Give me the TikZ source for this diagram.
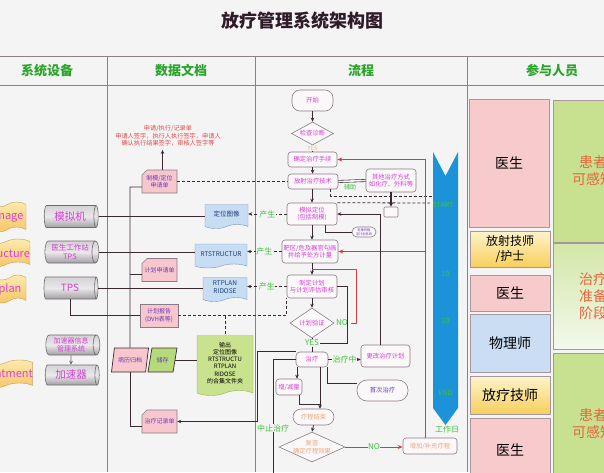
\documentclass[tikz,border=0pt]{standalone}
\usepackage{fontspec}
\setmainfont{Noto Sans CJK SC}
\usepackage{tikz}
\usetikzlibrary{arrows.meta, positioning, calc, shapes.geometric, shapes.symbols}
\definecolor{pageback}{HTML}{F5F4F5}
\definecolor{gridgray}{HTML}{8C8189}
\definecolor{titleink}{HTML}{2E1B27}
\definecolor{headgreen}{HTML}{2AA52A}
\definecolor{flowpink}{HTML}{D43FD4}
\definecolor{boxedge}{HTML}{8B7B86}
\definecolor{boxfill}{HTML}{FBF8FA}
\definecolor{linkdark}{HTML}{3B2833}
\definecolor{docblue}{HTML}{C7DDF3}
\definecolor{docedge}{HTML}{7F95AE}
\definecolor{docink}{HTML}{1F3C7A}
\definecolor{cardpink}{HTML}{F7C7CD}
\definecolor{cardink}{HTML}{6B3BB8}
\definecolor{notered}{HTML}{E04848}
\definecolor{saygreen}{HTML}{3EC23E}
\definecolor{linkred}{HTML}{DC3B3B}
\definecolor{bandblue}{HTML}{1C93D9}
\definecolor{yesgold}{HTML}{F0C255}
\definecolor{endorange}{HTML}{EEA677}
\definecolor{outgreen}{HTML}{C9E28E}
\definecolor{outedge}{HTML}{9AB262}
\definecolor{storegreen}{HTML}{B6D97B}
\definecolor{roleedge}{HTML}{A4979D}
\definecolor{rolepink}{HTML}{F7CACB}
\definecolor{roleblue}{HTML}{CADDF3}
\definecolor{roleyellowtop}{HTML}{FFF3CC}
\definecolor{roleyellowbot}{HTML}{F6CF5C}
\definecolor{patgreen}{HTML}{C7E191}
\definecolor{patink}{HTML}{E8653A}
\definecolor{stagetop}{HTML}{D2E7A8}
\definecolor{stagebot}{HTML}{F4F8EE}
\definecolor{cyltop}{HTML}{EAE8EA}
\definecolor{cylbot}{HTML}{A3A0A3}
\definecolor{cyledge}{HTML}{6E6A6E}
\definecolor{bannertop}{HTML}{FCEBB0}
\definecolor{bannerbot}{HTML}{F6C565}
\definecolor{bannerink}{HTML}{E23FDA}
\newcommand{\fsz}[1]{\fontsize{#1}{\dimexpr#1pt*6/5\relax}\selectfont}
% request card with cut corner: name, centre, text
\newcommand{\cardnode}[3]{%
  \filldraw[cardframe] (#2) ++(-12.5,-11.5) -- ++(30,0) -- ++(0,23) -- ++(-35,0) -- ++(0,-18) -- cycle;
  \node[cardtext] (#1) at (#2) {#3};}

\begin{document}
\begin{tikzpicture}[x=1pt, y=-1pt, >=Stealth,
  grid/.style={gridgray, line width=0.9pt},
  headtxt/.style={font=\fsz{13}\bfseries, text=headgreen},
  flowbox/.style={draw=boxedge, fill=boxfill, rounded corners=3pt, line width=0.6pt,
    inner sep=0pt, align=center, text=flowpink, font=\fsz{6.3}},
  pillbox/.style={flowbox, rounded corners=8pt},
  decide/.style={diamond, draw=boxedge, fill=boxfill, line width=0.6pt, inner sep=0pt},
  lab/.style={font=\fsz{6.3}, text=flowpink, align=center},
  say/.style={font=\fsz{8}, text=saygreen, fill=pageback, inner sep=0.5pt},
  link/.style={linkdark, line width=0.8pt},
  arrow/.style={link, -{Stealth[length=4pt,width=3.5pt]}},
  dashlink/.style={link, dash pattern=on 3pt off 2pt},
  dasharrow/.style={dashlink, -{Stealth[length=4pt,width=3.5pt]}},
  redlink/.style={linkred, line width=0.9pt},
  redarrow/.style={redlink, -{Stealth[length=5pt,width=4pt]}},
  cyl/.style={cylinder, shape aspect=0.45, draw=cyledge, line width=0.6pt,
    top color=cyltop!70!cylbot, bottom color=cylbot, middle color=cyltop,
    minimum height=54pt, minimum width=22pt, inner sep=0pt, align=center, text=flowpink},
  doc/.style={tape, tape bend top=none, tape bend height=4pt, draw=docedge, fill=docblue,
    text=docink, font=\fsz{6.5}, align=center, inner sep=0pt},
  banner/.style={tape, tape bend height=5pt, draw=bannerbot!80!black, line width=0.4pt,
    top color=bannertop, bottom color=bannerbot, text=bannerink, font=\fsz{11}, inner sep=0pt},
  slant/.style={trapezium, trapezium left angle=68, trapezium right angle=112,
    trapezium stretches=true, draw=linkdark, line width=0.7pt, font=\fsz{6},
    text=cardink, inner sep=0pt, minimum height=24pt},
  cardframe/.style={fill=cardpink, draw=boxedge, line width=0.6pt},
  cardtext/.style={font=\fsz{6}, text=cardink, align=center, minimum width=35pt,
    minimum height=23pt, inner sep=0pt},
  role/.style={draw=roleedge, line width=0.7pt, minimum width=80pt, font=\fsz{14},
    text=black, align=center, inner sep=0pt},
  patient/.style={role, text=patink},
  bandtxt/.style={font=\fsz{7}, text=saygreen}]

  \useasboundingbox (0,0) rectangle (604,472);
  \clip (0,0) rectangle (604,472);
  \fill[pageback] (0,0) rectangle (604,472);

  % --- title and table frame ---
  \node[font=\fsz{18}\bfseries, text=titleink] (title) at (302,21) {放疗管理系统架构图};
  \draw[grid] (0,56) -- (604,56);
  \draw[grid] (0,85) -- (604,85);
  \foreach \cx in {107,255,467}
    \draw[grid] (\cx,56) -- (\cx,472);
  \node[headtxt] (hsys) at (47,71) {系统设备};
  \node[headtxt] (hdoc) at (181,71) {数据文档};
  \node[headtxt] (hflow) at (361,71) {流程};
  \node[headtxt] (hrole) at (552,71) {参与人员};

  % --- system devices ---
  \node[banner, minimum width=37pt, minimum height=30pt] (bimg) at (7.5,217) {Image};
  \node[banner, minimum width=46pt, minimum height=28pt] (bstr) at (6,253) {Structure};
  \node[banner, minimum width=32pt, minimum height=28pt] (bpln) at (10,289) {plan};
  \node[banner, minimum width=50pt, minimum height=28pt] (btrt) at (6,374) {Treatment};

  \node[cyl, font=\fsz{10.5}] (mnj) at (70,216.5) {模拟机};
  \node[cyl, font=\fsz{7.5}] (tpsa) at (70,252) {医生工作站\\TPS};
  \node[cyl, font=\fsz{10}] (tpsb) at (70,288) {TPS};
  \node[cyl, font=\fsz{7}, minimum width=20pt] (jsxx) at (71,345) {加速器信息\\管理系统};
  \node[cyl, font=\fsz{10.5}, minimum width=20pt] (jsq) at (71,375) {加速器};
  \draw[cyledge, line width=0.8pt, -{Stealth[length=4pt,width=4pt]}] (jsxx.south) -- (jsq.north);

  % --- data documents ---
  \node[font=\fsz{6.2}, text=notered, align=center] (req) at (168,136)
    {申请/执行/记录单\\申请人签字，执行人执行签字，申请人\\确认执行结果签字，审核人签字等};
  \cardnode{zmsq}{159.5,181.5}{制模/定位\\申请单}
  \cardnode{jhsq}{159.5,270}{计划申请单}
  \cardnode{zljl}{159.5,421.5}{治疗记录单}
  \node[draw=boxedge, fill=cardpink, line width=0.6pt, minimum width=38pt, minimum height=23pt,
    inner sep=0pt, font=\fsz{6}, text=cardink, align=center] (jhbg) at (159,315.5) {计划报告\\(DVH表等)};
  \node[doc, minimum width=43pt, minimum height=24pt] (dwtx) at (226.5,214.5) {定位图像};
  \node[doc, minimum width=52pt, minimum height=24pt] (rtst) at (221,254) {RTSTRUCTUR};
  \node[doc, minimum width=44pt, minimum height=24pt] (rtpl) at (225,287.5) {RTPLAN\\RIDOSE};
  \node[slant, fill=cardpink, minimum width=37pt] (blgd) at (130,360) {病历归档};
  \node[slant, fill=storegreen, minimum width=29pt] (cc) at (162.5,360) {储存};
  \node[tape, tape bend top=none, tape bend height=5pt, draw=outedge, fill=outgreen,
    minimum width=56pt, minimum height=60pt, inner sep=0pt, font=\fsz{6}, align=center] (sc)
    at (225,363) {输出\\定位图像\\RTSTRUCTU\\RTPLAN\\RIDOSE\\的合集文件夹};

  \draw[arrow] ([xshift=3pt]zmsq.north) -- ([xshift=3pt]zmsq.north |- req.south);
  \coordinate (bustop) at (130,187);
  \draw[link] (bustop -| zmsq.west) -- (bustop) -- (blgd.north);
  \draw[link] (blgd.south) |- ([yshift=-5pt]zljl.west);
  \draw[link] ([yshift=-4pt]jhsq.west) -- ([yshift=-4pt]jhsq.west -| bustop);
  \draw[link] (mnj.east) -- (mnj.east -| dwtx.west);
  \draw[link] (tpsa.east) -- (tpsa.east -| rtst.west);
  \draw[link] (tpsb.east) -- (tpsb.east -| rtpl.west);
  \draw[link] (tpsb.south) |- (jhbg.west);
  \draw[link] (cc.east) -- (cc.east -| sc.west);

  % --- blue time band ---
  \fill[bandblue] (433,152) -- (445.5,176) -- (458,152) -- (458,408) -- (445.5,425)
    -- (433,408) -- cycle;

  % --- main flow ---
  \node[pillbox] (ks) at (312.5,100.5) [minimum width=41pt, minimum height=21pt] {开始};
  \node[decide, minimum width=42pt, minimum height=23pt, label={[lab]center:检查诊断}] (jczd)
    at (312.5,133.5) {};
  \node[flowbox, minimum width=49pt, minimum height=15pt] (qdzl) at (312.5,159.5) {确定治疗手续};
  \node[flowbox, minimum width=50pt, minimum height=15pt] (fszl) at (313,181.5) {放射治疗技术};
  \node[flowbox, minimum width=50pt, minimum height=22pt] (mndw) at (312,214) {模拟定位\\(包括制模)};
  \node[flowbox, minimum width=56pt, minimum height=23pt] (bqgh) at (310,251.5)
    {靶区/危及器官勾画\\并给予处方计量};
  \node[flowbox, minimum width=50pt, minimum height=23pt] (zdjh) at (312,286.5)
    {制定计划\\与计划评估审核};
  \node[decide, minimum width=44pt, minimum height=30pt, label={[lab]center:计划验证}] (jhyz)
    at (312,323) {};
  \node[flowbox, minimum width=32pt, minimum height=15pt, rounded corners=4pt] (zl)
    at (312,359.5) {治疗};
  \node[flowbox, minimum width=26pt, minimum height=16pt] (zjl) at (289,387) {增/减量};
  \node[pillbox, minimum width=41pt, minimum height=16pt, text=endorange] (lcjs)
    at (313.5,417) {疗程结束};
  \node[decide, minimum width=66pt, minimum height=30pt,
    label={[lab, text=endorange]center:复查\\确定疗程效果}] (fc) at (312,447) {};
  \node[flowbox, minimum width=54pt, minimum height=16pt, text=endorange] (zjbc)
    at (430,446) {增加/补充疗程};
  \node[flowbox, minimum width=49pt, minimum height=22pt] (ggjh) at (385.5,356) {更改治疗计划};
  \node[pillbox, minimum width=51pt, minimum height=21pt, rounded corners=10pt, text=cardink]
    (sczl) at (382.5,390.5) {首次治疗};
  \node[flowbox, minimum width=50pt, minimum height=23pt] (qtzl) at (391,180.5)
    {其他治疗方式\\如化疗、外科等};
  \node[flowbox, minimum width=14pt, minimum height=10pt, rounded corners=1pt] (xk)
    at (391,212) {};
  \node[pillbox, minimum width=24pt, minimum height=10pt, rounded corners=5pt,
    font=\fsz{3.2}, text=cardink] (cxt) at (364,232) {影像传输\\至计划系统};

  % --- flow connectors ---
  \draw[arrow] (ks.south) -- (jczd.north);
  \draw[link] (jczd.south) -- (qdzl.north);
  \node[font=\fsz{6}, text=yesgold, fill=pageback, inner sep=0.5pt] (yesa) at (312.5,148) {YES};
  \draw[arrow] (qdzl.south) -- (fszl.north -| qdzl.south);
  \draw[arrow] (fszl.south -| mndw.north) -- (mndw.north);
  \draw[arrow] (mndw.south) -- (mndw.south |- bqgh.north);
  \draw[arrow] (bqgh.south -| zdjh.north) -- (zdjh.north);
  \draw[arrow] (zdjh.south) -- (jhyz.north);
  \draw[link] (jhyz.south) -- (zl.north);
  \node[font=\fsz{8}, text=saygreen, fill=pageback, inner sep=0.5pt] (yesb) at (312,343) {YES};
  \node[font=\fsz{8}, text=saygreen] (noa) at (342,323) {NO};
  \draw[link] (zdjh.east) -- ++(10,0) |- (yesb.east);

  \draw[dasharrow] (mndw.west) -- node[say] {产生} (mndw.west -| dwtx.east);
  \draw[dasharrow] (bqgh.west) -- node[say] {产生} (bqgh.west -| rtst.east);
  \draw[dasharrow] (zdjh.west) -- node[say] {产生} (zdjh.west -| rtpl.east);
  \draw[dashlink] (zmsq.east) -- (fszl.west);
  \draw[dashlink] (jhbg.east) -| (zdjh.south west);
  \draw[dashlink] (sc.north |- jhbg.east) -- (sc.north);
  \coordinate (dashenda) at (433,196);
  \coordinate (dashendb) at (430,203);
  \draw[dashlink] ([xshift=-8pt]fszl.south east) |- (dashenda);
  \draw[dashlink] (mndw.north east) -- (dashendb);

  \draw[link, double=pageback, double distance=1.6pt, line width=0.6pt] (qtzl.west) -- (fszl.east);
  \node[font=\fsz{6}, text=saygreen] (fz) at (350,187) {辅助};
  \draw[link, line width=1.1pt, -{Stealth[length=4pt,width=4pt]}] (qtzl.south) -- (xk.north);
  \draw[link] ([xshift=13pt]mndw.south) |- (cxt.west);

  \coordinate (redjoin) at ($(zdjh.north)+(0,-5)$);
  \draw[redlink] (noa.east) -- ++(5,0) |- (redjoin);
  \coordinate (redtop) at ([xshift=-5pt]zjbc.north);
  \draw[redarrow] (redtop) |- (qdzl.east);
  \draw[redarrow] (redtop |- bqgh.east) -- (bqgh.east);
  \draw[redarrow] (fc.east) -- node[say] {NO} (fc.east -| zjbc.west);

  \draw[arrow] (zl.east) -- node[say] {治疗中} (zl.east -| ggjh.west);
  \draw[arrow] ([xshift=-5pt]ggjh.north) |- (mndw.east);
  \draw[arrow] ([xshift=-15pt]zl.south) -- ([xshift=-15pt]zl.south |- zjl.north);
  \draw[arrow] ([xshift=8pt]zl.south) -- ([xshift=8pt]zl.south |- lcjs.north);
  \draw[link] ([xshift=10pt]zjl.south) |- ($([xshift=8pt]zl.south |- lcjs.north)+(0,-4)$);
  \draw[link] ([xshift=-1pt]zl.south east) |- (sczl.165);
  \draw[arrow] (lcjs.south) -- (fc.north);
  \draw[arrow] (zl.north west) -- ++(-38,0) |- (zljl.east);
  \coordinate (stopend) at (273,480);
  \draw[link] (zl.west) -- (zl.west -| stopend) -- (stopend);
  \node[say] (zzzl) at (273,428) {中止治疗};

  % --- band labels ---
  \node[bandtxt] (tstart) at (443,205) {START};
  \node[bandtxt] (tda) at (445.5,274) {1D};
  \node[bandtxt] (tdb) at (445.5,321) {1D};
  \node[bandtxt] (tend) at (445.5,393) {END};
  \node[font=\fsz{8}, text=saygreen] (tday) at (447,429) {工作日};

  % --- roles ---
  \node[role, fill=rolepink, minimum height=128pt] (ysa) at (509,163) {医生};
  \node[role, top color=roleyellowtop, bottom color=roleyellowbot, minimum height=36pt,
    font=\fsz{12}] (fsjs) at (510,249) {放射技师\\/护士};
  \node[role, fill=rolepink, minimum height=36pt] (ysb) at (510,293) {医生};
  \node[role, fill=roleblue, minimum height=58pt] (wls) at (510,343) {物理师};
  \node[role, top color=roleyellowtop, bottom color=roleyellowbot, minimum height=38pt]
    (flj) at (510,395) {放疗技师};
  \node[role, fill=rolepink, minimum height=64pt] (ysc) at (510,450) {医生};
  \node[patient, fill=patgreen, minimum height=142pt] (hza) at (593,171) {患者\\可感知};
  \node[patient, top color=stagetop, bottom color=stagebot, minimum height=106pt] (zbjd)
    at (593,296) {治疗\\准备\\阶段};
  \node[patient, fill=patgreen, minimum height=142pt] (hzb) at (593,424) {患者\\可感知};

\end{tikzpicture}
\end{document}
